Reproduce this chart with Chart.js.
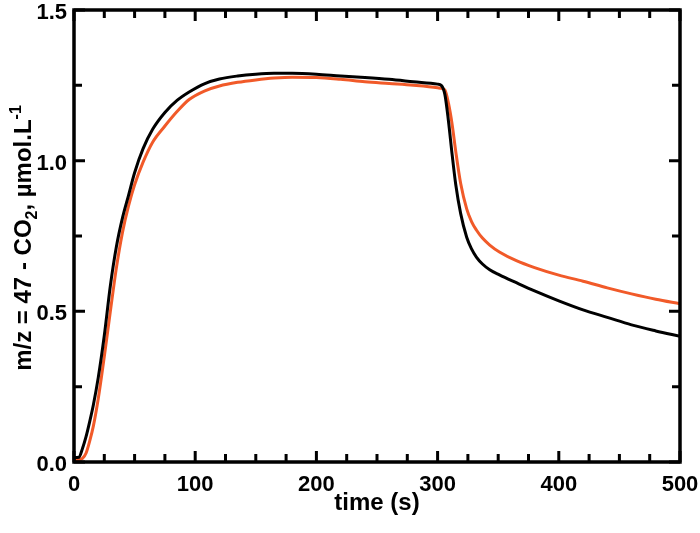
<!DOCTYPE html>
<html>
<head>
<meta charset="utf-8">
<script src="https://cdn.jsdelivr.net/npm/chart.js@4.4.1/dist/chart.umd.min.js"></script>
<style>
  html, body { margin: 0; padding: 0; background: #fff; }
  #wrap { width: 700px; height: 533px; position: relative; }
</style>
</head>
<body>
<div id="wrap"><canvas id="chart"></canvas></div>
<script>
// time (s) sampling points
const time = [0, 4, 7, 10, 13, 16, 20, 25, 30, 35, 40, 45, 50, 57, 65, 75, 85, 95, 108, 120,
  135, 150, 165, 180, 200, 220, 240, 260, 280, 300, 303, 306, 309, 312, 315, 319, 324, 328,
  332, 337, 343, 351, 365, 380, 400, 420, 440, 460, 480, 500];

// black trace
const co2Black = [0.015, 0.016, 0.045, 0.085, 0.135, 0.19, 0.28, 0.42, 0.585, 0.715, 0.81, 0.885,
  0.96, 1.04, 1.105, 1.16, 1.20, 1.228, 1.256, 1.271, 1.281, 1.287, 1.29, 1.29, 1.287, 1.281,
  1.276, 1.27, 1.262, 1.254, 1.25, 1.22, 1.13, 1.02, 0.92, 0.825, 0.746, 0.707, 0.68, 0.657,
  0.638, 0.621, 0.595, 0.568, 0.535, 0.505, 0.48, 0.455, 0.435, 0.417];

// orange trace
const co2Orange = [0.008, 0.008, 0.012, 0.03, 0.07, 0.12, 0.21, 0.35, 0.50, 0.645, 0.762, 0.85,
  0.92, 0.995, 1.062, 1.115, 1.163, 1.203, 1.232, 1.248, 1.26, 1.268, 1.274, 1.277, 1.276, 1.27,
  1.262, 1.256, 1.25, 1.242, 1.24, 1.235, 1.19, 1.12, 1.03, 0.925, 0.84, 0.798, 0.77, 0.743,
  0.72, 0.697, 0.668, 0.645, 0.62, 0.60, 0.578, 0.558, 0.54, 0.525];

const xMajor = 100, xMinor = 25;
const yMajor = 0.5, yMinor = 0.25;

const FONT = "'Liberation Sans', Arial, Helvetica, sans-serif";

const toPoints = (ys) => time.map((t, i) => ({ x: t, y: ys[i] }));

const isMajor = (v, step) => Math.abs(v / step - Math.round(v / step)) < 1e-6;

// prism-style frame: closed box with inward ticks on all four sides
const framePlugin = {
  id: 'frame',
  afterDatasetsDraw(chart) {
    const { ctx, chartArea: a, scales } = chart;
    const x = scales.x, y = scales.y;
    ctx.save();
    ctx.strokeStyle = '#000';
    ctx.lineCap = 'butt';

    ctx.lineWidth = 3;
    ctx.beginPath();
    x.ticks.forEach(t => {
      const px = x.getPixelForValue(t.value);
      const len = isMajor(t.value, xMajor) ? 11 : 8;
      ctx.moveTo(px, a.bottom); ctx.lineTo(px, a.bottom - len);
      ctx.moveTo(px, a.top); ctx.lineTo(px, a.top + len);
    });
    y.ticks.forEach(t => {
      const py = y.getPixelForValue(t.value);
      const len = isMajor(t.value, yMajor) ? 11 : 8;
      ctx.moveTo(a.left, py); ctx.lineTo(a.left + len, py);
      ctx.moveTo(a.right, py); ctx.lineTo(a.right - len, py);
    });
    ctx.stroke();

    ctx.lineWidth = 3.5;
    ctx.lineJoin = 'miter';
    ctx.strokeRect(a.left, a.top, a.right - a.left, a.bottom - a.top);
    ctx.restore();
  }
};

// y title with real sub/superscripts
const yTitlePlugin = {
  id: 'yTitle',
  afterDraw(chart) {
    const { ctx, chartArea: a } = chart;
    const parts = [
      { t: 'm/z = 47 - CO', s: 24, dy: 0 },
      { t: '2', s: 16, dy: 6 },
      { t: ', µmol.L', s: 24, dy: 0 },
      { t: '-1', s: 16, dy: -10 }
    ];
    ctx.save();
    ctx.fillStyle = '#000';
    ctx.textBaseline = 'alphabetic';
    let total = 0;
    parts.forEach(p => {
      ctx.font = `bold ${p.s}px ${FONT}`;
      p.w = ctx.measureText(p.t).width;
      total += p.w;
    });
    ctx.translate(31, (a.top + a.bottom) / 2 + 2);
    ctx.rotate(-Math.PI / 2);
    let cx = -total / 2;
    parts.forEach(p => {
      ctx.font = `bold ${p.s}px ${FONT}`;
      ctx.fillText(p.t, cx, p.dy);
      cx += p.w;
    });
    ctx.restore();
  }
};

new Chart(document.getElementById('chart'), {
  type: 'line',
  data: {
    datasets: [
      {
        label: 'black',
        data: toPoints(co2Black),
        borderColor: '#000000',
        borderWidth: 3,
        pointRadius: 0,
        cubicInterpolationMode: 'monotone',
        order: 0
      },
      {
        label: 'orange',
        data: toPoints(co2Orange),
        borderColor: '#F15A29',
        borderWidth: 3,
        pointRadius: 0,
        cubicInterpolationMode: 'monotone',
        order: 1
      }
    ]
  },
  options: {
    responsive: true,
    maintainAspectRatio: false,
    animation: false,
    layout: { padding: { left: 0, right: 20, top: 10, bottom: 0 } },
    plugins: {
      legend: { display: false },
      tooltip: { enabled: false }
    },
    scales: {
      x: {
        type: 'linear',
        min: 0,
        max: 500,
        afterFit: (s) => { s.height = 71; s.paddingLeft = 0; s.paddingRight = 0; },
        grid: { display: false, drawTicks: false },
        border: { display: false },
        ticks: {
          stepSize: xMinor,
          autoSkip: false,
          maxRotation: 0,
          padding: 10,
          color: '#000',
          font: { family: FONT, size: 22, weight: 'bold' },
          callback: (v) => isMajor(v, xMajor) ? String(v) : ''
        },
        title: {
          display: true,
          text: 'time (s)',
          color: '#000',
          font: { family: FONT, size: 24, weight: 'bold' },
          padding: { top: 0, bottom: 15 }
        }
      },
      y: {
        min: 0,
        max: 1.5,
        afterFit: (s) => { s.width = 74; s.paddingTop = 0; s.paddingBottom = 0; },
        grid: { display: false, drawTicks: false },
        border: { display: false },
        ticks: {
          stepSize: yMinor,
          autoSkip: false,
          padding: 7,
          labelOffset: 3,
          color: '#000',
          font: { family: FONT, size: 22, weight: 'bold' },
          callback: (v) => isMajor(v, yMajor) ? v.toFixed(1) : ''
        }
      }
    }
  },
  plugins: [framePlugin, yTitlePlugin]
});
</script>
</body>
</html>
